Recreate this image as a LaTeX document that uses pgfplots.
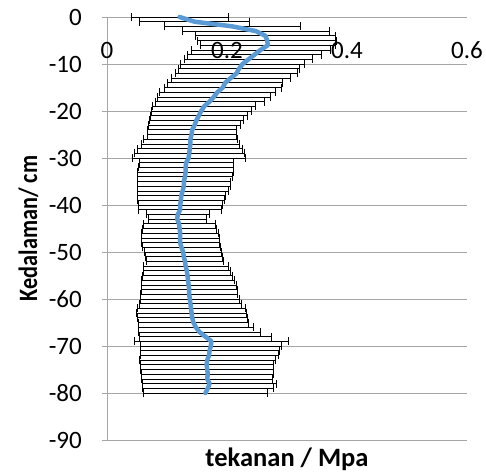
\documentclass[border=0pt]{standalone}
\usepackage{pgfplots}
\usepackage{pgfplotstable}
\pgfplotsset{compat=1.18}
\usepackage{fontspec}
\setmainfont{Carlito}
\definecolor{gridc}{RGB}{166,166,166}
\definecolor{lineblue}{RGB}{91,155,213}
\pgfplotstableread{
d m e
0 0.121 0.081
-1 0.146 0.092
-2 0.209 0.114
-3 0.248 0.122
-4 0.264 0.116
-5 0.267 0.116
-6 0.268 0.113
-7 0.256 0.116
-8 0.246 0.112
-9 0.236 0.107
-10 0.226 0.103
-11 0.220 0.101
-12 0.216 0.102
-13 0.206 0.099
-14 0.197 0.096
-15 0.193 0.097
-16 0.184 0.096
-17 0.178 0.094
-18 0.171 0.091
-19 0.162 0.086
-20 0.157 0.083
-21 0.153 0.081
-22 0.149 0.078
-23 0.146 0.077
-24 0.142 0.074
-25 0.141 0.074
-26 0.139 0.078
-27 0.139 0.081
-28 0.138 0.088
-29 0.137 0.092
-30 0.136 0.094
-31 0.132 0.078
-32 0.131 0.079
-33 0.131 0.080
-34 0.130 0.079
-35 0.128 0.078
-36 0.128 0.077
-37 0.126 0.076
-38 0.124 0.074
-39 0.123 0.072
-40 0.122 0.070
-41 0.122 0.069
-42 0.118 0.052
-43 0.117 0.048
-44 0.120 0.060
-45 0.121 0.062
-46 0.122 0.064
-47 0.122 0.065
-48 0.122 0.065
-49 0.124 0.065
-50 0.127 0.064
-51 0.128 0.064
-52 0.130 0.064
-53 0.131 0.071
-54 0.133 0.073
-55 0.134 0.075
-56 0.135 0.077
-57 0.136 0.079
-58 0.137 0.080
-59 0.137 0.081
-60 0.138 0.082
-61 0.139 0.085
-62 0.140 0.090
-63 0.141 0.092
-64 0.142 0.092
-65 0.144 0.092
-66 0.148 0.096
-67 0.154 0.101
-68 0.164 0.110
-69 0.174 0.128
-70 0.173 0.118
-71 0.171 0.116
-72 0.170 0.115
-73 0.167 0.113
-74 0.166 0.111
-75 0.167 0.111
-76 0.168 0.110
-77 0.167 0.109
-78 0.171 0.112
-79 0.168 0.109
-80 0.164 0.104
}\datatable
\begin{document}
\begin{tikzpicture}
\begin{axis}[
  at={(0,0)}, anchor=south west,
  scale only axis, width=360bp, height=423bp,
  xmin=0, xmax=0.6, ymin=-90, ymax=0,
  xtick={0,0.2,0.4,0.6},
  ytick={-90,-80,...,0},
  axis x line*=top, axis y line*=left,
  axis line style={gridc, line width=0.8bp},
  ymajorgrids,
  grid style={gridc, line width=0.8bp},
  tick align=outside,
  major tick length=5bp,
  xtick style={draw=none},
  ytick style={gridc, line width=0.8bp},
  /pgf/number format/assume math mode=true,
  tick label style={font=\fontsize{25bp}{30bp}\selectfont},
  xticklabel style={anchor=base, yshift=-46bp},
  yticklabel style={anchor=east, inner sep=0pt, xshift=-20bp},
  xlabel={tekanan / Mpa},
  ylabel={\scalebox{0.84}[1]{Kedalaman/ cm}},
  label style={font=\bfseries\fontsize{26.5bp}{31bp}\selectfont},
  xlabel style={at={(axis description cs:0.5,-0.0615)}, anchor=base},
  ylabel style={at={(axis description cs:-0.1944,0.5)}, anchor=base},
  clip=false,
]
\addplot[black, line width=0.7bp, mark=none,
  error bars/.cd, x dir=both, x explicit,
  error bar style={black, line width=0.7bp},
  error mark=|,
  error mark options={black, line width=0.7bp, mark size=4bp}]
  table[x=m, y=d, x error=e] {\datatable};
\end{axis}
\begin{axis}[
  at={(0,0)}, anchor=south west,
  scale only axis, width=360bp, height=423bp,
  xmin=0, xmax=0.6, ymin=-90, ymax=0,
  hide axis, clip=false,
]
\addplot[lineblue, line width=4.5bp, mark=none, line join=round, line cap=round] table[x=m, y=d] {\datatable};
\end{axis}
\pgfresetboundingbox
\path (-107bp,-32bp) rectangle (379bp,440bp);
\end{tikzpicture}
\end{document}
